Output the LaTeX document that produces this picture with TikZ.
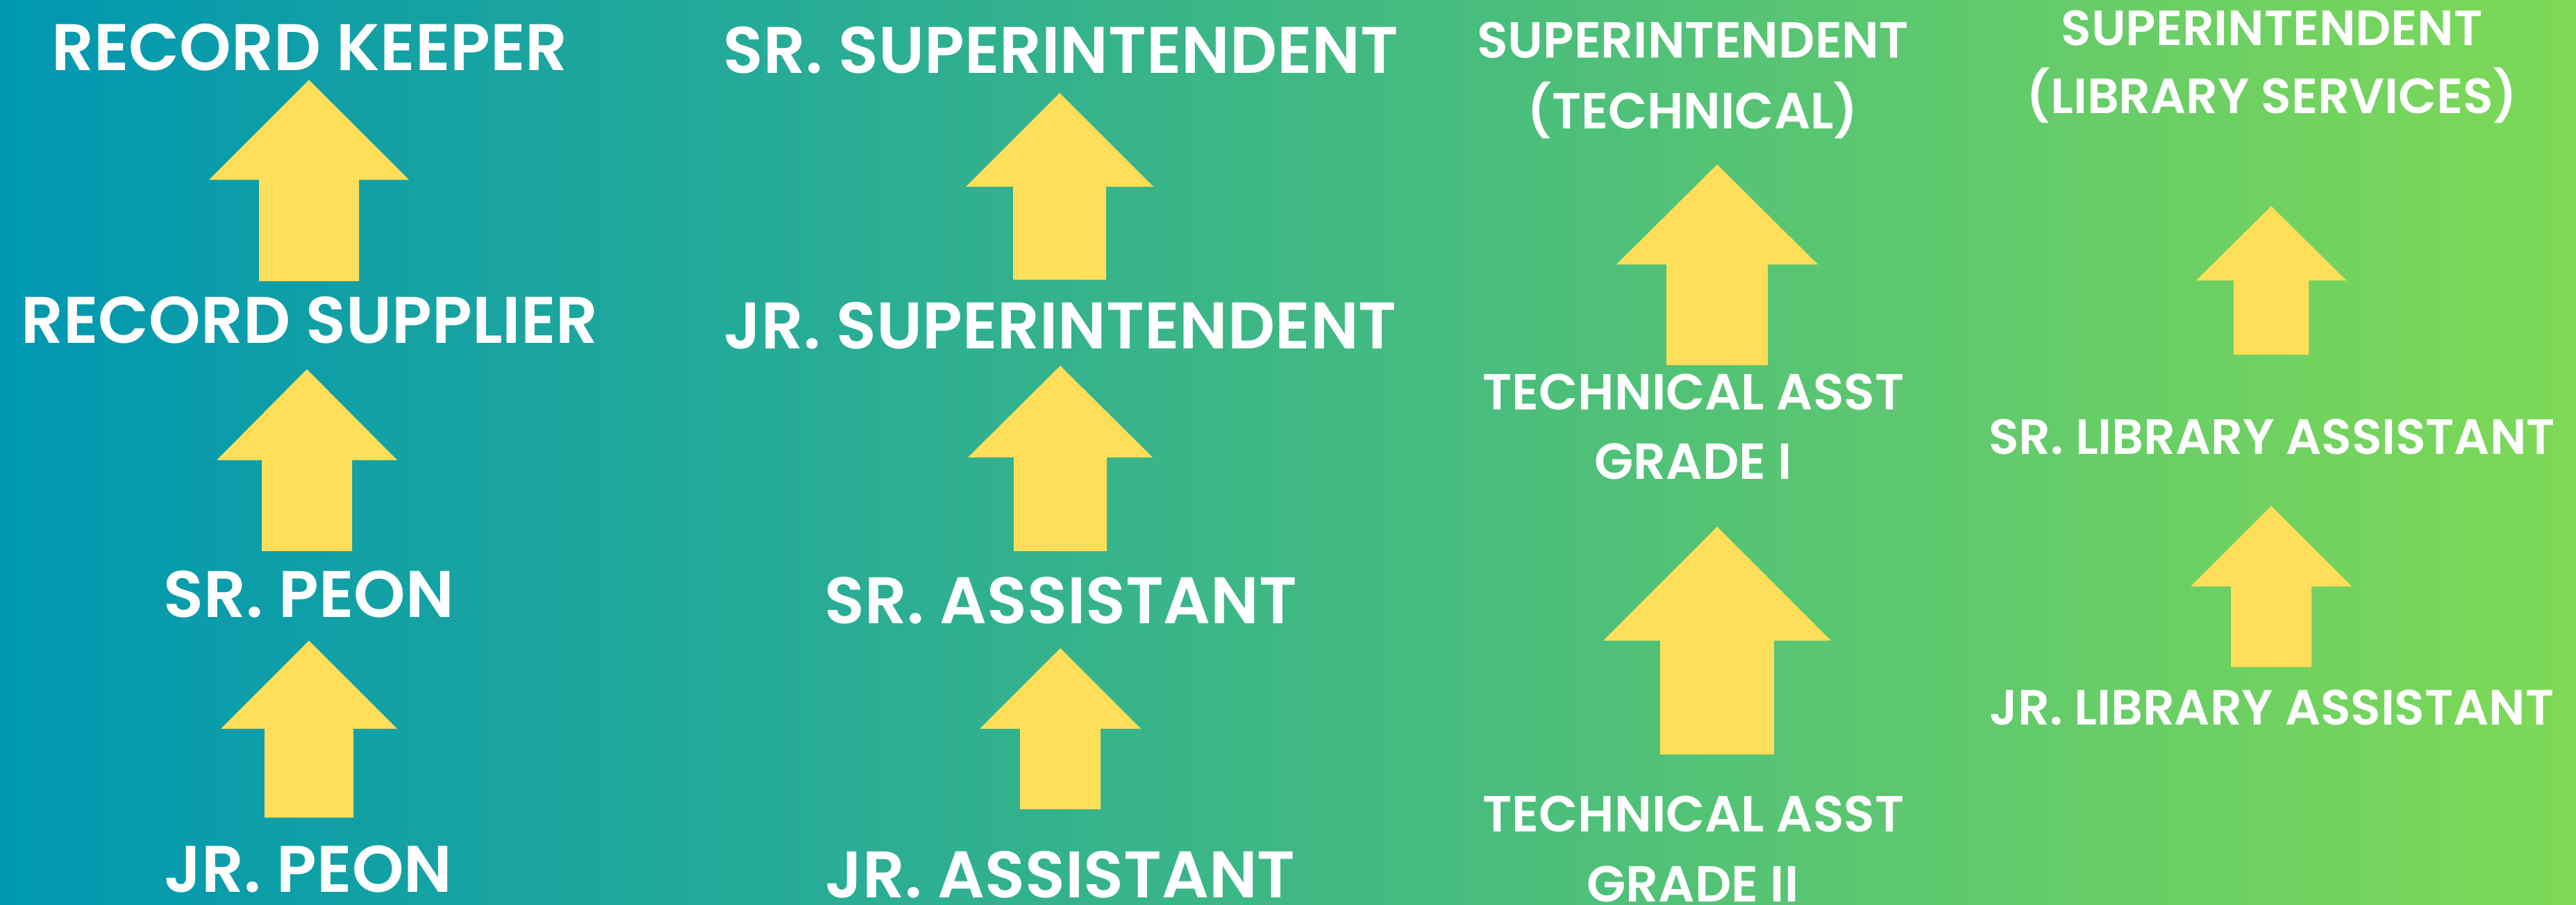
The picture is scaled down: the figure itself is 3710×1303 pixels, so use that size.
\documentclass[tikz,border=0pt]{standalone}
\usepackage{fontspec}
\setmainfont{Poppins}[BoldFont={Poppins SemiBold}]
\usepackage{tikz}
\definecolor{rkteal}{HTML}{0097B2}
\definecolor{rkgreen}{HTML}{7ED957}
\definecolor{rkyellow}{HTML}{FFDE59}

% fat upward arrow: x, tip y, neck y, foot y, head half-width, shaft half-width
\newcommand{\rankup}[6]{%
  \fill[rkyellow] (#1,#2) -- (#1+#5,#3) -- (#1+#6,#3) -- (#1+#6,#4)
    -- (#1-#6,#4) -- (#1-#6,#3) -- (#1-#5,#3) -- cycle;}

\begin{document}
\begin{tikzpicture}[
  x=0.1mm, y=-0.1mm,
  rank/.style={text=white, inner sep=0pt, anchor=base,
               font=\bfseries\fontsize{27}{30}\selectfont},
  ranksm/.style={rank, font=\bfseries\fontsize{20.8}{24}\selectfont},
  ranklib/.style={rank, font=\bfseries\fontsize{20.3}{24}\selectfont}
]
\useasboundingbox (0,0) rectangle (3710,1303);
\shade[left color=rkteal, right color=rkgreen] (0,0) rectangle (3710,1303);

% --- record staff ---
\node[rank] (keeper)   at (446,101)  {RECORD KEEPER};
\node[rank] (supplier) at (446,494)  {RECORD SUPPLIER};
\node[rank] (srpeon)   at (445,889)  {SR. PEON};
\node[rank] (jrpeon)   at (444,1285) {JR. PEON};
\rankup{445}{115}{259}{405}{144}{72}
\rankup{442}{532}{663}{794}{130}{65}
\rankup{445}{923}{1050}{1178}{127}{64}

% --- office staff ---
\node[rank] (srsupdt) at (1528,105)  {SR. SUPERINTENDENT};
\node[rank] (jrsupdt) at (1527,502)  {JR. SUPERINTENDENT};
\node[rank] (srasst)  at (1528,898)  {SR. ASSISTANT};
\node[rank] (jrasst)  at (1527,1293) {JR. ASSISTANT};
\rankup{1526}{134}{269}{403}{135}{67}
\rankup{1527}{527}{659}{794}{133}{67}
\rankup{1527}{934}{1050}{1166}{116}{58}

% --- technical staff ---
\node[ranksm] (supdttech)  at (2438,83)   {SUPERINTENDENT};
\node[ranksm] (supdttechb) at (2438,185)  {(TECHNICAL)};
\node[ranksm] (techone)    at (2439,590)  {TECHNICAL ASST};
\node[ranksm] (techoneb)   at (2439,690)  {GRADE I};
\node[ranksm] (techtwo)    at (2439,1198) {TECHNICAL ASST};
\node[ranksm] (techtwob)   at (2438,1299) {GRADE II};
\rankup{2473}{237}{381}{526}{145}{73}
\rankup{2473}{759}{923}{1087}{164}{82}

% --- library staff ---
\node[ranklib] (supdtlib)  at (3272,65)   {SUPERINTENDENT};
\node[ranklib] (supdtlibb) at (3272,163)  {(LIBRARY SERVICES)};
\node[ranklib] (srlib)     at (3272,654)  {SR. LIBRARY ASSISTANT};
\node[ranklib] (jrlib)     at (3272,1044) {JR. LIBRARY ASSISTANT};
\rankup{3271}{297}{404}{511}{108}{54}
\rankup{3271}{729}{845}{961}{116}{58}

\end{tikzpicture}
\end{document}
